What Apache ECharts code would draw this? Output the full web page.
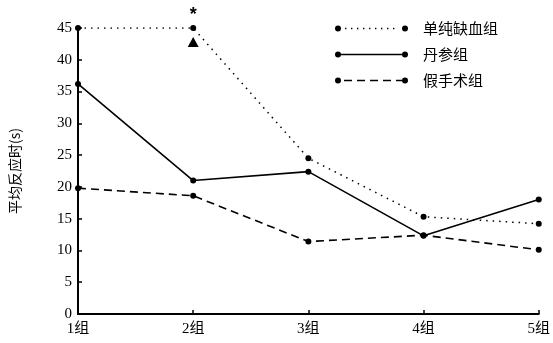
<!DOCTYPE html>
<html><head><meta charset="utf-8">
<script src="https://cdn.jsdelivr.net/npm/echarts@6/dist/echarts.min.js"></script>
<style>html,body{margin:0;padding:0;background:#fff}#c{width:553px;height:343px}</style>
</head><body><div id="c"></div>
<script>
const categories = ['1组','2组','3组','4组','5组'];
const ischemia = [45, 45, 24.5, 15.3, 14.2];     // 单纯缺血组
const danshen = [36.2, 21.0, 22.4, 12.3, 18.0];    // 丹参组
const sham = [19.8, 18.6, 11.4, 12.4, 10.1];       // 假手术组
const triangleMark = [[1, 42.8]];
const yTicks = {min: 0, max: 45, interval: 5};
const seriesNames = ['单纯缺血组','丹参组','假手术组'];

function circle(cx){return `M${cx-3},3 A3,3 0 1,1 ${cx+3},3 A3,3 0 1,1 ${cx-3},3 Z `;}
function dots(){let s='';for(let x=10;x<64;x+=6){s+=`M${x},2.3 h1.4 v1.4 h-1.4 Z `;}return s;}
function dashes(){let s='';for(let x=9;x<62;x+=13){s+=`M${x},2.2 h8 v1.6 h-8 Z `;}return s;}
const iconDot='path://'+circle(3)+circle(70)+dots();
const iconSolid='path://'+circle(3)+circle(70)+'M3,2.2 h67 v1.6 h-67 Z';
const iconDash='path://'+circle(3)+circle(70)+dashes();

const chart = echarts.init(document.getElementById('c'));
const black='#000';
const fontNum='"Liberation Serif","Noto Sans CJK SC",serif';
chart.setOption({
  backgroundColor:'#fff',
  animation:false,
  grid:{left:78,right:13,top:28,bottom:29,containLabel:false},
  legend:{
    orient:'vertical', left:330, top:16, itemWidth:73, itemHeight:7, itemGap:11,
    textStyle:{color:black,fontSize:15,fontFamily:'"Noto Sans CJK SC",sans-serif',padding:[0,0,0,10]},
    data:[{name:seriesNames[0],icon:iconDot},{name:seriesNames[1],icon:iconSolid},{name:seriesNames[2],icon:iconDash}],
    itemStyle:{color:black}
  },
  xAxis:{
    type:'category', data:categories, boundaryGap:false,
    axisLine:{lineStyle:{color:black,width:2}},
    axisTick:{inside:true,length:4,lineStyle:{color:black,width:1.5}},
    axisLabel:{color:black,fontSize:15,fontFamily:fontNum,margin:8}
  },
  yAxis:{
    type:'value', min:yTicks.min, max:yTicks.max, interval:yTicks.interval,
    name:'平均反应时(s)', nameLocation:'middle', nameGap:56, nameRotate:90,
    nameTextStyle:{color:black,fontSize:14,fontFamily:'"Noto Sans CJK SC",sans-serif'},
    splitLine:{show:false},
    axisLine:{show:true,lineStyle:{color:black,width:2}},
    axisTick:{show:true,inside:true,length:4,lineStyle:{color:black,width:1.5}},
    axisLabel:{color:black,fontSize:15,fontFamily:fontNum,margin:6}
  },
  series:[
    {name:seriesNames[0],type:'line',data:ischemia,symbol:'circle',symbolSize:6,
     itemStyle:{color:black},lineStyle:{color:black,width:1.5,type:[1.5,5]},
     markPoint:{symbol:'circle',symbolSize:0,data:[{coord:[1,45],value:'*'}],
       label:{show:true,position:'top',distance:4,formatter:'*',color:black,fontSize:18,fontWeight:'bold'}}},
    {name:seriesNames[1],type:'line',data:danshen,symbol:'circle',symbolSize:6,
     itemStyle:{color:black},lineStyle:{color:black,width:1.6,type:'solid'}},
    {name:seriesNames[2],type:'line',data:sham,symbol:'circle',symbolSize:6,
     itemStyle:{color:black},lineStyle:{color:black,width:1.6,type:[8,5]}},
    {name:'△',type:'scatter',data:triangleMark,symbol:'triangle',symbolSize:[11,10],
     itemStyle:{color:black,opacity:1}}
  ]
});
</script></body></html>
